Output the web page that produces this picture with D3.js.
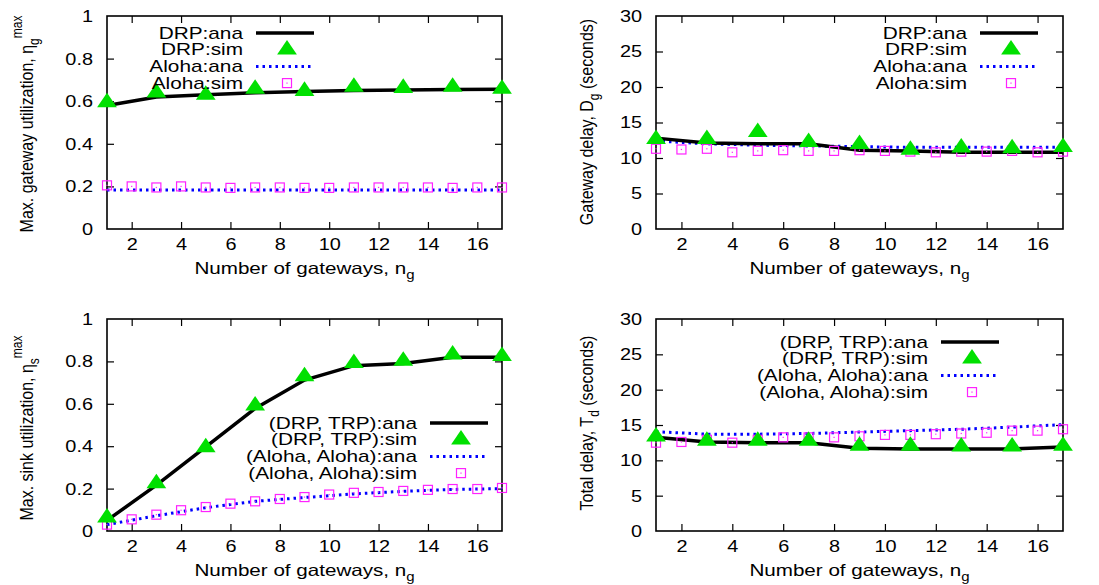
<!DOCTYPE html>
<html>
<head>
<meta charset="utf-8">
<script src="https://cdn.jsdelivr.net/npm/d3@7"></script>
<style>
  body { margin: 0; background: #fff; }
  svg text { font-family: "Liberation Sans", Arial, sans-serif; fill: #000; }
</style>
</head>
<body>
<div id="chart"></div>
<script>
// x values (number of gateways)
const gwAll = [1, 2, 3, 4, 5, 6, 7, 8, 9, 10, 11, 12, 13, 14, 15, 16, 17]
const gwOdd = [1, 3, 5, 7, 9, 11, 13, 15, 17]
const xTicks = [2, 4, 6, 8, 10, 12, 14, 16]

// panel 1: max gateway utilization
const gwUtilDrpAna = [0.58, 0.62, 0.63, 0.64, 0.645, 0.65, 0.652, 0.655, 0.656]
const gwUtilDrpSim = [0.59, 0.635, 0.625, 0.653, 0.643, 0.662, 0.657, 0.662, 0.653]
const gwUtilAlohaAna = [0.183, 0.183, 0.183, 0.183, 0.183, 0.183, 0.183, 0.183, 0.183]
const gwUtilAlohaSim = [0.205, 0.2, 0.195, 0.2, 0.195, 0.193, 0.195, 0.195, 0.193, 0.193, 0.195, 0.195, 0.195, 0.195, 0.193, 0.195, 0.195]

// panel 2: gateway delay
const gwDelayDrpAna = [12.8, 12.1, 12.0, 12.0, 11.1, 11.0, 10.8, 10.8, 10.8]
const gwDelayDrpSim = [12.5, 12.5, 13.5, 12.1, 11.8, 11.0, 11.3, 11.2, 11.4]
const gwDelayAlohaAna = [12.4, 12.0, 11.8, 11.7, 11.6, 11.5, 11.5, 11.5, 11.5]
const gwDelayAlohaSim = [11.3, 11.2, 11.3, 10.8, 11.0, 11.1, 11.0, 11.0, 11.1, 11.0, 10.9, 10.8, 10.9, 10.9, 11.0, 10.8, 10.9]

// panel 3: max sink utilization
const sinkUtilDrpAna = [0.05, 0.216, 0.397, 0.578, 0.712, 0.78, 0.79, 0.82, 0.82]
const sinkUtilDrpSim = [0.058, 0.22, 0.39, 0.586, 0.724, 0.787, 0.798, 0.827, 0.82]
const sinkUtilAlohaAna = [0.03, 0.072, 0.11, 0.14, 0.158, 0.175, 0.187, 0.196, 0.2]
const sinkUtilAlohaSim = [0.03, 0.055, 0.077, 0.098, 0.113, 0.129, 0.14, 0.151, 0.16, 0.172, 0.18, 0.184, 0.189, 0.194, 0.198, 0.198, 0.203]

// panel 4: total delay
const totDelayDrpAna = [13.25, 12.6, 12.5, 12.5, 11.7, 11.6, 11.6, 11.6, 11.9]
const totDelayDrpSim = [13.2, 12.6, 12.6, 12.6, 11.9, 11.9, 11.8, 11.8, 11.9]
const totDelayAlohaAna = [14.05, 13.7, 13.7, 13.8, 14.0, 14.2, 14.4, 14.7, 15.05]
const totDelayAlohaSim = [12.5, 12.6, 12.9, 12.5, 12.9, 13.25, 13.25, 13.25, 13.4, 13.6, 13.6, 13.7, 13.8, 13.9, 14.2, 14.2, 14.4]

const utilTicks = [0, 0.2, 0.4, 0.6, 0.8, 1]
const delayTicks = [0, 5, 10, 15, 20, 25, 30]

const legendTop = ['DRP:ana', 'DRP:sim', 'Aloha:ana', 'Aloha:sim']
const legendBottom = ['(DRP, TRP):ana', '(DRP, TRP):sim', '(Aloha, Aloha):ana', '(Aloha, Aloha):sim']

const w = 1099
const h = 585
const green = '#00e000'
const pink = '#ff22ff'
const blue = '#0000ff'

const svg = d3.select('#chart')
    .append('svg')
    .attr('width', w)
    .attr('height', h)

svg.append('rect').attr('width', w).attr('height', h).attr('fill', '#fff')

// the original picture is stretched sideways, so widen the text to match
function stretch(sel, sx) {
    sel.each(function () {
        const t = d3.select(this)
        const x = +t.attr('x') || 0
        const y = +t.attr('y') || 0
        t.attr('x', 0).attr('y', 0)
            .attr('transform', 'translate(' + x + ',' + y + ') scale(' + sx + ',1)')
    })
}

function drawPanel(p) {
    const g = svg.append('g')
    const x = d3.scaleLinear().domain([1, 17]).range([p.left, p.right])
    const y = d3.scaleLinear().domain(p.yDomain).range([p.bottom, p.top])

    // axes with inward ticks on all four sides
    const xAxis = d3.axisBottom(x).tickValues(xTicks).tickSizeInner(-7).tickSizeOuter(0).tickPadding(9)
    const xAxisTop = d3.axisTop(x).tickValues(xTicks).tickSizeInner(-7).tickSizeOuter(0).tickFormat('')
    const yAxis = d3.axisLeft(y).tickValues(p.yTicks).tickSizeInner(-7).tickSizeOuter(0).tickPadding(14).tickFormat(d3.format('~g'))
    const yAxisRight = d3.axisRight(y).tickValues(p.yTicks).tickSizeInner(-7).tickSizeOuter(0).tickFormat('')

    const axes = [
        [xAxis, 'translate(0,' + p.bottom + ')'],
        [xAxisTop, 'translate(0,' + p.top + ')'],
        [yAxis, 'translate(' + p.left + ',0)'],
        [yAxisRight, 'translate(' + p.right + ',0)']
    ]
    axes.forEach(a => {
        const ag = g.append('g').attr('transform', a[1]).call(a[0])
        ag.select('.domain').remove()
        ag.selectAll('line').attr('stroke', '#000').attr('stroke-width', 1.2)
        ag.selectAll('text').attr('font-size', 17).attr('font-family', '"Liberation Sans", Arial, sans-serif').attr('fill', '#000')
        stretch(ag.selectAll('text'), 1.17)
    })
    // hide ticks at the exact frame ends
    g.selectAll('.tick').filter(d => d === p.yDomain[0] || d === p.yDomain[1]).selectAll('line').remove()

    g.append('rect')
        .attr('x', p.left).attr('y', p.top)
        .attr('width', p.right - p.left).attr('height', p.bottom - p.top)
        .attr('fill', 'none').attr('stroke', '#000').attr('stroke-width', 1.6)

    const line = d3.line().x(d => x(d[0])).y(d => y(d[1]))

    // analysis curves
    g.append('path')
        .datum(d3.zip(gwOdd, p.alohaAna))
        .attr('d', line)
        .attr('fill', 'none').attr('stroke', blue).attr('stroke-width', 3)
        .attr('stroke-dasharray', '2.5,4')
    g.append('path')
        .datum(d3.zip(gwOdd, p.drpAna))
        .attr('d', line)
        .attr('fill', 'none').attr('stroke', '#000').attr('stroke-width', 3.5)

    // simulation points
    const squares = g.append('g').selectAll('g')
        .data(d3.zip(gwAll, p.alohaSim))
        .enter().append('g')
        .attr('transform', d => 'translate(' + x(d[0]) + ',' + y(d[1]) + ')')
    squares.append('rect').attr('x', -4.5).attr('y', -4.5).attr('width', 9).attr('height', 9)
        .attr('fill', 'none').attr('stroke', pink).attr('stroke-width', 1.2)
    squares.append('rect').attr('x', -0.6).attr('y', -0.6).attr('width', 1.2).attr('height', 1.2).attr('fill', pink)

    g.append('g').selectAll('path')
        .data(d3.zip(gwOdd, p.drpSim))
        .enter().append('path')
        .attr('d', d3.symbol(d3.symbolTriangle).size(135))
        .attr('transform', d => 'translate(' + x(d[0]) + ',' + (y(d[1]) - 1) + ') scale(1.12,0.95)')
        .attr('fill', green)

    // legend
    const lg = g.append('g')
    p.legend.forEach((label, i) => {
        const ly = p.legY + i * 16.7
        const lt = lg.append('text').attr('x', p.legTextX).attr('y', ly + 5.5)
            .attr('text-anchor', 'end').attr('font-size', 16).text(label)
        stretch(lt, 1.3)
        const s0 = p.legTextX + 13
        const s1 = s0 + 58
        const mid = (s0 + s1) / 2 + 2
        if (i === 0) {
            lg.append('line').attr('x1', s0).attr('x2', s1).attr('y1', ly).attr('y2', ly)
                .attr('stroke', '#000').attr('stroke-width', 3.5)
        } else if (i === 1) {
            lg.append('path').attr('d', d3.symbol(d3.symbolTriangle).size(135))
                .attr('transform', 'translate(' + mid + ',' + ly + ') scale(1.12,0.95)')
                .attr('fill', green)
        } else if (i === 2) {
            lg.append('line').attr('x1', s0).attr('x2', s1).attr('y1', ly).attr('y2', ly)
                .attr('stroke', blue).attr('stroke-width', 3).attr('stroke-dasharray', '2.5,4')
        } else {
            lg.append('rect').attr('x', mid - 4.5).attr('y', ly - 4.5).attr('width', 9).attr('height', 9)
                .attr('fill', 'none').attr('stroke', pink).attr('stroke-width', 1.2)
            lg.append('rect').attr('x', mid - 0.6).attr('y', ly - 0.6).attr('width', 1.2).attr('height', 1.2).attr('fill', pink)
        }
    })

    // x axis title
    const xt = g.append('text')
        .attr('x', (p.left + p.right) / 2)
        .attr('y', p.bottom + 45)
        .attr('text-anchor', 'middle')
        .attr('font-size', 16.5)
    xt.append('tspan').text('Number of gateways, n')
    xt.append('tspan').attr('dy', 5).attr('font-size', 12).text('g')
    stretch(xt, 1.25)

    // y axis title
    const yt = g.append('text')
        .attr('transform', 'translate(' + p.yTitleX + ',' + p.yTitleY + ') rotate(-90) scale(1,1.2)')
        .attr('text-anchor', 'middle')
        .attr('font-size', 16)
    p.yTitle.forEach(part => {
        const t = yt.append('tspan').text(part.t)
        if (part.dy) t.attr('dy', part.dy)
        if (part.size) t.attr('font-size', part.size)
    })
}

drawPanel({
    left: 107, right: 502, top: 16, bottom: 229,
    yDomain: [0, 1], yTicks: utilTicks,
    drpAna: gwUtilDrpAna, drpSim: gwUtilDrpSim, alohaAna: gwUtilAlohaAna, alohaSim: gwUtilAlohaSim,
    legend: legendTop, legTextX: 243, legY: 33,
    yTitleX: 33, yTitleY: 124,
    yTitle: [{ t: 'Max. gateway utilization, η' }, { t: 'g', dy: 5, size: 12 }, { t: 'max', dy: -14, size: 12 }]
})

drawPanel({
    left: 656, right: 1063, top: 16, bottom: 229,
    yDomain: [0, 30], yTicks: delayTicks,
    drpAna: gwDelayDrpAna, drpSim: gwDelayDrpSim, alohaAna: gwDelayAlohaAna, alohaSim: gwDelayAlohaSim,
    legend: legendTop, legTextX: 967, legY: 33,
    yTitleX: 593, yTitleY: 122,
    yTitle: [{ t: 'Gateway delay, D' }, { t: 'g', dy: 5, size: 12 }, { t: ' (seconds)', dy: -5 }]
})

drawPanel({
    left: 107, right: 502, top: 319, bottom: 531,
    yDomain: [0, 1], yTicks: utilTicks,
    drpAna: sinkUtilDrpAna, drpSim: sinkUtilDrpSim, alohaAna: sinkUtilAlohaAna, alohaSim: sinkUtilAlohaSim,
    legend: legendBottom, legTextX: 417, legY: 423,
    yTitleX: 33, yTitleY: 428,
    yTitle: [{ t: 'Max. sink utilization, η' }, { t: 's', dy: 5, size: 12 }, { t: 'max', dy: -14, size: 12 }]
})

drawPanel({
    left: 656, right: 1063, top: 319, bottom: 531,
    yDomain: [0, 30], yTicks: delayTicks,
    drpAna: totDelayDrpAna, drpSim: totDelayDrpSim, alohaAna: totDelayAlohaAna, alohaSim: totDelayAlohaSim,
    legend: legendBottom, legTextX: 928, legY: 342,
    yTitleX: 593, yTitleY: 423,
    yTitle: [{ t: 'Total delay, T' }, { t: 'd', dy: 5, size: 12 }, { t: ' (seconds)', dy: -5 }]
})
</script>
</body>
</html>
